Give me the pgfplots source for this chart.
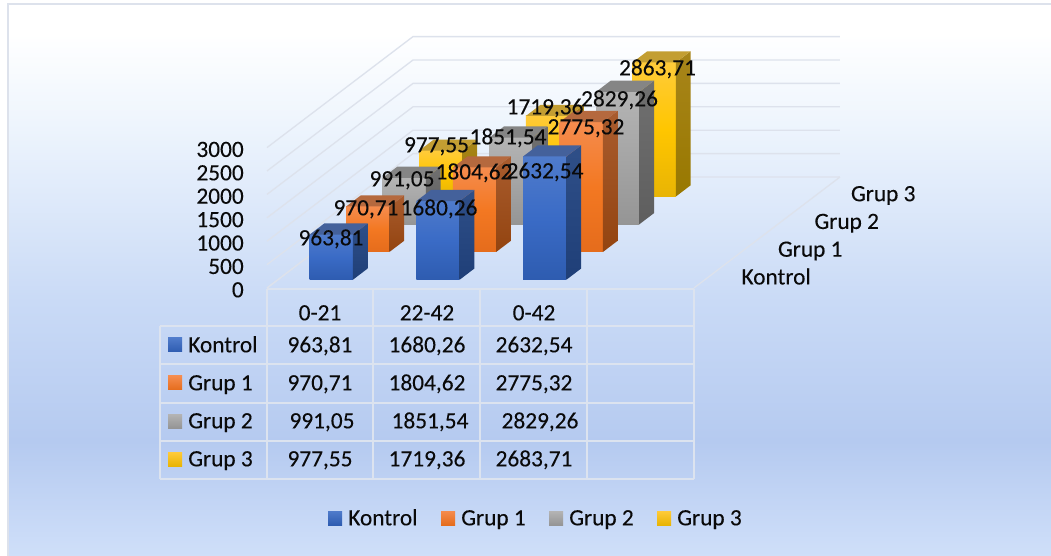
\documentclass[border=0pt]{standalone}
\usepackage{fontspec}
\setmainfont{Carlito}[FakeBold=0.12]
\usepackage{pgfplots}
\pgfplotsset{compat=1.18}

% bars, front face: top, bottom, middle / side: top, bottom / lid
\definecolor{KT}{HTML}{4F7BCB}\definecolor{KB}{HTML}{2E5CB0}\definecolor{KM}{HTML}{3A6BC6}
\definecolor{KS}{HTML}{2F4F88}\definecolor{KR}{HTML}{1F3F78}\definecolor{KL}{HTML}{44619B}
\definecolor{AT}{HTML}{F58C4E}\definecolor{AB}{HTML}{E56C1C}\definecolor{AM}{HTML}{F37822}
\definecolor{AS}{HTML}{A95C2E}\definecolor{AR}{HTML}{934410}\definecolor{AL}{HTML}{B5693E}
\definecolor{BT}{HTML}{B4B4B4}\definecolor{BB}{HTML}{959595}\definecolor{BM}{HTML}{A5A5A5}
\definecolor{BS}{HTML}{707070}\definecolor{BR}{HTML}{5E5E5E}\definecolor{BL}{HTML}{858585}
\definecolor{CT}{HTML}{FFCB3A}\definecolor{CB}{HTML}{E8B404}\definecolor{CM}{HTML}{FFC600}
\definecolor{CS}{HTML}{A8851A}\definecolor{CR}{HTML}{987800}\definecolor{CL}{HTML}{C39E32}
\definecolor{gridc}{HTML}{DDE2EC}
\definecolor{tabc}{HTML}{DCE3EF}
\definecolor{txt}{HTML}{0A0A0A}
\definecolor{bga}{RGB}{207,223,249}
\definecolor{bgb}{RGB}{181,202,240}
\definecolor{bgc}{RGB}{201,218,246}
\definecolor{bgd}{RGB}{238,245,253}

\pgfdeclareverticalshading{chartbg}{100bp}{
  color(0bp)=(bga);
  color(25bp)=(bga);
  color(35.4bp)=(bgb);
  color(48bp)=(bgc);
  color(64.2bp)=(bgd);
  color(72.3bp)=(white);
  color(100bp)=(white)}

\pgfplotsset{
  pix axis/.style={
    at={(0pt,0pt)},anchor=south west,
    x=0.75pt,y=0.75pt,
    xmin=0,xmax=1051,ymin=0,ymax=556,y dir=reverse,
    axis lines=none,clip=false,
  },
}
\tikzset{
  lab/.style={font=\fontsize{17.5}{20}\selectfont,text=txt,inner sep=0pt,text height=11pt,text depth=0pt},
  ticklab/.style={lab,anchor=east,xshift=-17.25pt,yshift=-1.5pt},
  serlab/.style={lab,anchor=west,xshift=21.75pt,yshift=-2.25pt},
}

% one cuboid: category, series, value, colour prefix
\newcommand{\cuboid}[4]{%
  \pgfmathsetmacro\xa{#1+0.297}\pgfmathsetmacro\xb{#1+0.703}%
  \pgfmathsetmacro\ya{#2+0.3}\pgfmathsetmacro\yb{#2+0.7}%
  \addplot3[draw=none,top color=#4T,bottom color=#4B,middle color=#4M] coordinates {(\xa,\ya,0)(\xb,\ya,0)(\xb,\ya,#3)(\xa,\ya,#3)};
  \addplot3[draw=none,top color=#4S,bottom color=#4R] coordinates {(\xb,\ya,0)(\xb,\yb,0)(\xb,\yb,#3)(\xb,\ya,#3)};
  \addplot3[draw=none,fill=#4L] coordinates {(\xa,\ya,#3)(\xb,\ya,#3)(\xb,\yb,#3)(\xa,\yb,#3)};
}
% legend square: left, top, colour prefix
\newcommand{\keysq}[3]{%
  \addplot[draw=none,top color=#3T,bottom color=#3B] coordinates {(#1,#2)(#1+14,#2)(#1+14,#2+14)(#1,#2+14)};
}
\newcommand{\zgrid}[1]{\addplot3[gridc,line width=1pt] coordinates {(0,0,#1)(0,4,#1)(4,4,#1)};}

\begin{document}
\begin{tikzpicture}
\useasboundingbox (0,0) rectangle (788.25pt,417pt);

% background, table, legend
\begin{axis}[pix axis]
  \addplot[draw=none,fill=white] coordinates {(0,0)(1051,0)(1051,556)(0,556)};
  \addplot[draw=none,shading=chartbg] coordinates {(8,4)(1051,4)(1051,556)(8,556)};
  \addplot[gridc,line width=1pt] coordinates {(8,556)(8,4)(1051,4)};

  % table lines
  \addplot[tabc,line width=1.2pt] coordinates {(267,289)(694,289)};
  \addplot[tabc,line width=1.2pt] coordinates {(160,326)(694,326)};
  \addplot[tabc,line width=1.2pt] coordinates {(160,364)(694,364)};
  \addplot[tabc,line width=1.2pt] coordinates {(160,403)(694,403)};
  \addplot[tabc,line width=1.2pt] coordinates {(160,441)(694,441)};
  \addplot[tabc,line width=1.2pt] coordinates {(160,479)(694,479)};
  \addplot[tabc,line width=1.2pt] coordinates {(160,326)(160,479)};
  \addplot[tabc,line width=1.2pt] coordinates {(267,289)(267,479)};
  \addplot[tabc,line width=1.2pt] coordinates {(373,289)(373,479)};
  \addplot[tabc,line width=1.2pt] coordinates {(480,289)(480,479)};
  \addplot[tabc,line width=1.2pt] coordinates {(587,289)(587,479)};
  \addplot[tabc,line width=1.2pt] coordinates {(694,289)(694,479)};

  \keysq{168}{338}{K}\keysq{168}{376}{A}\keysq{168}{414}{B}\keysq{168}{452}{C}
  \keysq{328}{511}{K}\keysq{441}{511}{A}\keysq{549}{511}{B}\keysq{657}{511}{C}

  \node[lab] at (axis cs:320,313) {0-21};
  \node[lab] at (axis cs:427,313) {22-42};
  \node[lab] at (axis cs:534,313) {0-42};

  \node[lab,anchor=west] at (axis cs:188,345) {Kontrol};
  \node[lab,anchor=west] at (axis cs:188,383) {Grup 1};
  \node[lab,anchor=west] at (axis cs:188,421) {Grup 2};
  \node[lab,anchor=west] at (axis cs:188,459) {Grup 3};

  \node[lab] at (axis cs:320,345) {963,81};
  \node[lab] at (axis cs:427,345) {1680,26};
  \node[lab] at (axis cs:534,345) {2632,54};
  \node[lab] at (axis cs:320,383) {970,71};
  \node[lab] at (axis cs:427,383) {1804,62};
  \node[lab] at (axis cs:534,383) {2775,32};
  \node[lab] at (axis cs:322,421) {991,05};
  \node[lab] at (axis cs:430,421) {1851,54};
  \node[lab] at (axis cs:540,421) {2829,26};
  \node[lab] at (axis cs:320,459) {977,55};
  \node[lab] at (axis cs:427,459) {1719,36};
  \node[lab] at (axis cs:534,459) {2683,71};

  \node[lab,anchor=west] at (axis cs:348,518) {Kontrol};
  \node[lab,anchor=west] at (axis cs:461,518) {Grup 1};
  \node[lab,anchor=west] at (axis cs:569,518) {Grup 2};
  \node[lab,anchor=west] at (axis cs:677,518) {Grup 3};
\end{axis}

% walls and bars, oblique projection
\begin{axis}[
    at={(200.25pt,201pt)},anchor=origin,
    x={(80.06pt,0pt)},y={(27.375pt,20.81pt)},z={(0pt,0.0351pt)},
    xmin=0,xmax=4,ymin=0,ymax=4,zmin=0,zmax=3000,
    axis lines=none,clip=false,
  ]
  \zgrid{0}\zgrid{500}\zgrid{1000}\zgrid{1500}\zgrid{2000}\zgrid{2500}\zgrid{3000}
  \addplot3[gridc,line width=1pt] coordinates {(4,0,0)(4,4,0)};
  \addplot3[gridc,line width=1pt] coordinates {(0,0,0)(0,4,0)};

  \cuboid{0}{3}{977.55}{C}\cuboid{1}{3}{1719.36}{C}\cuboid{2}{3}{2863.71}{C}
  \cuboid{0}{2}{991.05}{B}\cuboid{1}{2}{1851.54}{B}\cuboid{2}{2}{2829.26}{B}
  \cuboid{0}{1}{970.71}{A}\cuboid{1}{1}{1804.62}{A}\cuboid{2}{1}{2775.32}{A}
  \cuboid{0}{0}{963.81}{K}\cuboid{1}{0}{1680.26}{K}\cuboid{2}{0}{2632.54}{K}

  \node[ticklab] at (axis cs:0,0,3000) {3000};
  \node[ticklab] at (axis cs:0,0,2500) {2500};
  \node[ticklab] at (axis cs:0,0,2000) {2000};
  \node[ticklab] at (axis cs:0,0,1500) {1500};
  \node[ticklab] at (axis cs:0,0,1000) {1000};
  \node[ticklab] at (axis cs:0,0,500) {500};
  \node[ticklab] at (axis cs:0,0,0) {0};

  \node[serlab] at (axis cs:4,0.5,0) {Kontrol};
  \node[serlab] at (axis cs:4,1.5,0) {Grup 1};
  \node[serlab] at (axis cs:4,2.5,0) {Grup 2};
  \node[serlab] at (axis cs:4,3.5,0) {Grup 3};
\end{axis}

% data labels over the bars
\begin{axis}[pix axis]
  \node[lab] at (axis cs:436.5,145) {977,55};
  \node[lab] at (axis cs:545,107) {1719,36};
  \node[lab] at (axis cs:657.5,68) {2863,71};
  \node[lab] at (axis cs:402,179) {991,05};
  \node[lab] at (axis cs:508,137) {1851,54};
  \node[lab] at (axis cs:619.5,99) {2829,26};
  \node[lab] at (axis cs:366,208) {970,71};
  \node[lab] at (axis cs:474,172) {1804,62};
  \node[lab] at (axis cs:586,127) {2775,32};
  \node[lab] at (axis cs:331,238) {963,81};
  \node[lab] at (axis cs:439,208) {1680,26};
  \node[lab] at (axis cs:545,171) {2632,54};
\end{axis}
\end{tikzpicture}
\end{document}
